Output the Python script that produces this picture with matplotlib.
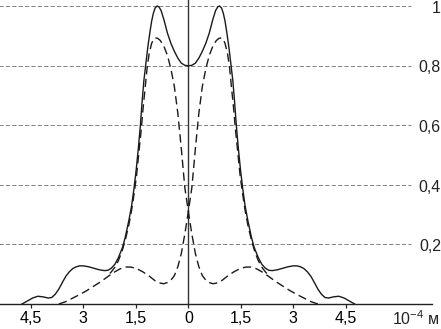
import matplotlib
matplotlib.use("Agg")
import matplotlib.pyplot as plt

plt.rcParams["font.family"] = ["Liberation Sans", "DejaVu Sans"]
plt.rcParams["mathtext.fontset"] = "custom"
plt.rcParams["mathtext.rm"] = "Liberation Sans"
plt.rcParams["lines.scale_dashes"] = False

# solid curve (total intensity)
solid_x = [-4.75, -4.6, -4.45, -4.3, -4.15, -4.0, -3.9, -3.8, -3.7, -3.6,
           -3.5, -3.4, -3.3, -3.2, -3.1, -3.0, -2.85, -2.7, -2.55, -2.4,
           -2.3, -2.2, -2.1, -2.0, -1.88, -1.8, -1.7, -1.62, -1.55, -1.49,
           -1.43, -1.37, -1.32, -1.27, -1.22, -1.16, -1.1, -1.05, -1.0, -0.95,
           -0.89, -0.84, -0.78, -0.7, -0.6, -0.5, -0.4, -0.3, -0.2, -0.1, 0.0,
           0.1, 0.2, 0.3, 0.4, 0.5, 0.6, 0.7, 0.78, 0.84,
           0.89, 0.95, 1.0, 1.05, 1.1, 1.16, 1.22, 1.27, 1.32, 1.37, 1.43, 1.49,
           1.55, 1.62, 1.7, 1.8, 1.88, 2.0, 2.1, 2.2, 2.3, 2.4,
           2.55, 2.7, 2.85, 3.0, 3.1, 3.2, 3.3, 3.4, 3.5, 3.6,
           3.7, 3.8, 3.9, 4.0, 4.15, 4.3, 4.45, 4.6, 4.75]
solid_y = [0.0, 0.01, 0.02, 0.026, 0.024, 0.02, 0.022, 0.033, 0.05, 0.072,
           0.093, 0.108, 0.119, 0.125, 0.128, 0.128, 0.125, 0.12, 0.115, 0.112,
           0.113, 0.12, 0.133, 0.155, 0.19, 0.225, 0.28, 0.33, 0.39, 0.45,
           0.52, 0.6, 0.68, 0.75, 0.8, 0.86, 0.91, 0.948, 0.975, 0.993,
           1.0, 0.997, 0.985, 0.955, 0.91, 0.875, 0.848, 0.825, 0.808, 0.801, 0.799,
           0.801, 0.808, 0.825, 0.848, 0.875, 0.91, 0.955, 0.985, 0.997,
           1.0, 0.993, 0.975, 0.948, 0.91, 0.86, 0.8, 0.75, 0.68, 0.6, 0.52, 0.45,
           0.39, 0.33, 0.28, 0.225, 0.19, 0.155, 0.133, 0.12, 0.113, 0.112,
           0.115, 0.12, 0.125, 0.128, 0.128, 0.125, 0.119, 0.108, 0.093, 0.072,
           0.05, 0.033, 0.022, 0.02, 0.024, 0.026, 0.02, 0.01, 0.0]

# dashed curves: one component peaks on the right, the other on the left
dash_x_right_peak = [-3.7, -3.5, -3.3, -3.1, -2.9, -2.7, -2.5, -2.3, -2.1, -1.95,
                     -1.8, -1.65, -1.5, -1.3, -1.1, -0.95, -0.8, -0.7, -0.6, -0.5,
                     -0.4, -0.3, -0.2, -0.1, 0.0, 0.1, 0.2, 0.3, 0.4, 0.5,
                     0.6, 0.7, 0.8, 0.87, 0.94, 1.0, 1.05, 1.12, 1.18, 1.23, 1.29, 1.35,
                     1.42, 1.48, 1.55, 1.62, 1.7, 1.8, 1.9, 2.0, 2.1, 2.2, 2.3]
dash_x_left_peak = [3.7, 3.5, 3.3, 3.1, 2.9, 2.7, 2.5, 2.3, 2.1, 1.95,
                    1.8, 1.65, 1.5, 1.3, 1.1, 0.95, 0.8, 0.7, 0.6, 0.5,
                    0.4, 0.3, 0.2, 0.1, 0.0, -0.1, -0.2, -0.3, -0.4, -0.5,
                    -0.6, -0.7, -0.8, -0.87, -0.94, -1.0, -1.05, -1.12, -1.18, -1.23,
                    -1.29, -1.35,
                    -1.42, -1.48, -1.55, -1.62, -1.7, -1.8, -1.9, -2.0, -2.1, -2.2, -2.3]
dash_y = [0.0, 0.008, 0.02, 0.032, 0.045, 0.06, 0.075, 0.092, 0.108, 0.118,
          0.124, 0.124, 0.12, 0.108, 0.092, 0.078, 0.07, 0.068, 0.072, 0.08,
          0.095, 0.125, 0.17, 0.235, 0.31, 0.39, 0.52, 0.64, 0.73, 0.79,
          0.835, 0.865, 0.884, 0.891, 0.893, 0.887, 0.874, 0.84, 0.79, 0.73,
          0.66, 0.58,
          0.5, 0.43, 0.37, 0.315, 0.265, 0.215, 0.175, 0.145, 0.123, 0.108, 0.095]

x_ticks = [-4.5, -3, -1.5, 0, 1.5, 3, 4.5]
x_tick_labels = ["4,5", "3", "1,5", "0", "1,5", "3", "4,5"]
y_levels = [0.2, 0.4, 0.6, 0.8, 1.0]
y_labels = ["0,2", "0,4", "0,6", "0,8", "1"]

fig = plt.figure(figsize=(4.41, 3.29), dpi=100)
ax = fig.add_axes([0, 25 / 329, 432 / 441, 304 / 329])
ax.set_xlim(-5.38, 6.96)
ax.set_ylim(0, 1.02)

# dashed grid lines with labels at the right
ax.hlines(y_levels, -5.41, 6.36, colors="#6e6e6e", linewidth=0.6,
          linestyles=[(0, (3.0, 1.6))])
for lev, lab in zip(y_levels, y_labels):
    ax.text(441 / 432, lev - 0.008, lab, transform=ax.get_yaxis_transform(),
            ha="right", va="center", fontsize=11.5, color="#222222",
            clip_on=False)

# vertical axis
ax.axvline(0, color="#333333", linewidth=1.0)

ax.plot(solid_x, solid_y, color="#1a1a1a", linewidth=1.0)
ax.plot(dash_x_right_peak, dash_y, color="#1a1a1a", linewidth=1.0,
        linestyle=(0, (6.0, 3.2)))
ax.plot(dash_x_left_peak, dash_y, color="#1a1a1a", linewidth=1.0,
        linestyle=(0, (6.0, 3.2)))

for side in ["top", "right", "left"]:
    ax.spines[side].set_visible(False)
ax.spines["bottom"].set_color("#222222")
ax.spines["bottom"].set_linewidth(1.0)
ax.set_yticks([])
ax.set_xticks(x_ticks)
ax.set_xticklabels(x_tick_labels)
ax.tick_params(axis="x", direction="out", length=3, width=0.9,
               color="#222222", labelsize=11.5, pad=2)

ax.text(5.81, -0.05, "10$^{-4}$ м", ha="left", va="center", fontsize=11.5,
        color="#222222", clip_on=False)

fig.savefig("out.png", dpi=100)
